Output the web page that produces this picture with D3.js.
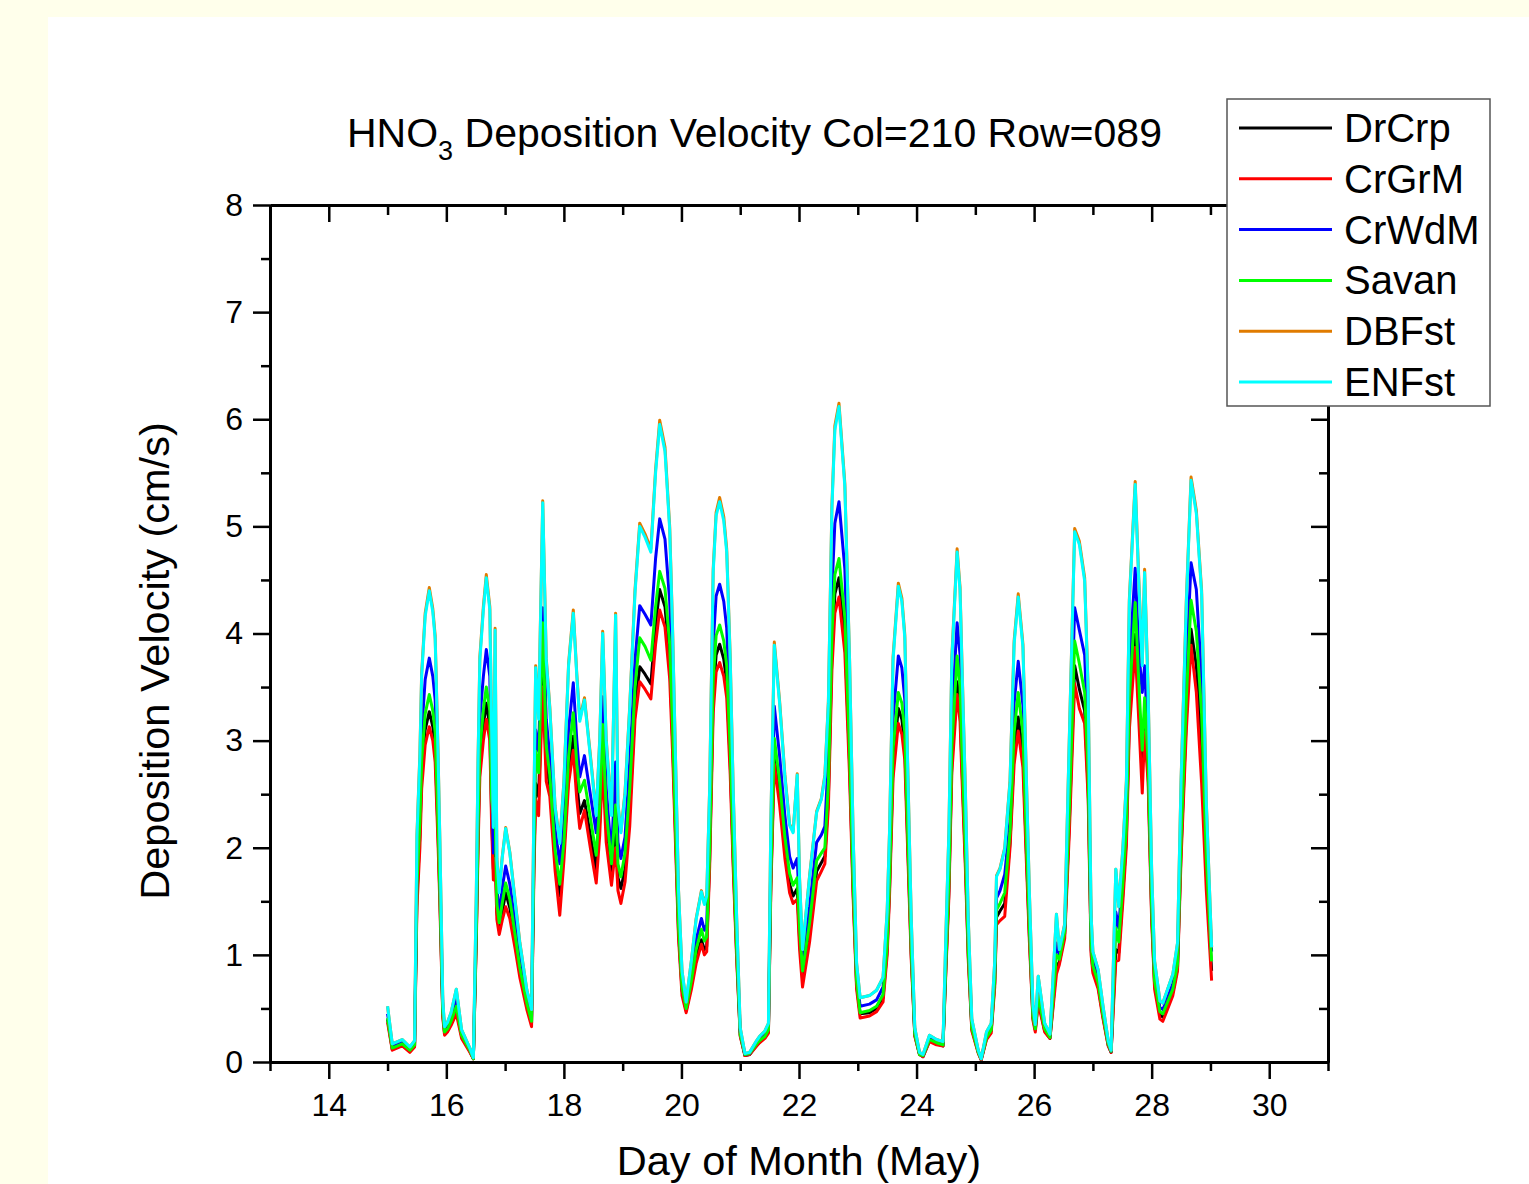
<!DOCTYPE html>
<html>
<head>
<meta charset="utf-8">
<script src="https://cdn.jsdelivr.net/npm/d3@7"></script>
<style>
    body { margin: 0; background: #ffffeb; }
    svg { display: block; }
</style>
</head>
<body>
<svg id="chart" width="1529" height="1184"></svg>
<script>
// hourly-ish sample times (day of May)
const days = [
    15.00, 15.08, 15.25, 15.38, 15.46, 15.50, 15.55, 15.58, 15.64, 15.71, 15.77, 15.81, 15.86, 15.89, 15.94, 15.97,
    16.02, 16.08, 16.17, 16.26, 16.40, 16.46, 16.51, 16.54, 16.57, 16.63, 16.68, 16.74, 16.77, 16.80, 16.83, 16.86, 16.90, 16.95,
    17.01, 17.08, 17.17, 17.25, 17.37, 17.45, 17.49, 17.52, 17.57, 17.64, 17.70, 17.76, 17.85, 17.93,
    18.00, 18.08, 18.16, 18.22, 18.27, 18.35, 18.45, 18.55, 18.61, 18.66, 18.72, 18.81, 18.88, 18.92, 18.97,
    19.04, 19.12, 19.21, 19.29, 19.38, 19.48, 19.56, 19.63, 19.72, 19.80, 19.85, 19.90, 19.95,
    20.01, 20.08, 20.17, 20.25, 20.34, 20.39, 20.43, 20.48, 20.54, 20.59, 20.65, 20.72, 20.77, 20.83, 20.88, 20.94,
    21.00, 21.08, 21.16, 21.28, 21.33, 21.42, 21.48, 21.52, 21.58, 21.67, 21.76, 21.84, 21.90, 21.97,
    22.01, 22.06, 22.18, 22.30, 22.38, 22.44, 22.50, 22.56, 22.61, 22.68, 22.78, 22.86, 22.92, 22.98,
    23.04, 23.20, 23.32, 23.43, 23.50, 23.54, 23.60, 23.69, 23.75, 23.80, 23.85, 23.91, 23.97,
    24.05, 24.11, 24.22, 24.34, 24.45, 24.50, 24.55, 24.60, 24.69, 24.74, 24.77, 24.83, 24.88, 24.94,
    25.05, 25.10, 25.19, 25.27, 25.33, 25.36, 25.42, 25.50, 25.59, 25.66, 25.73, 25.81, 25.87, 25.92, 25.98,
    26.02, 26.07, 26.18, 26.27, 26.38, 26.43, 26.52, 26.60, 26.69, 26.77, 26.86, 26.92, 26.97,
    27.00, 27.09, 27.17, 27.26, 27.31, 27.39, 27.44, 27.51, 27.57, 27.62, 27.72, 27.78, 27.84, 27.88, 27.94,
    28.00, 28.05, 28.14, 28.19, 28.36, 28.44, 28.50, 28.59, 28.67, 28.76, 28.85, 28.93,
    29.02
]

const drCrp = [
    0.40, 0.12, 0.16, 0.10, 0.15, 1.55, 2.12, 2.68, 3.10, 3.27, 3.13, 2.94, 2.12, 1.55, 0.44, 0.27,
    0.30, 0.36, 0.49, 0.24, 0.10, 0.03, 1.18, 2.10, 2.80, 3.14, 3.35, 3.13, 2.33, 1.80, 2.05, 1.40, 1.24, 1.40,
    1.58, 1.44, 1.13, 0.84, 0.52, 0.36, 1.85, 2.60, 2.48, 3.62, 2.78, 2.58, 1.88, 1.55,
    1.98, 2.70, 3.04, 2.60, 2.32, 2.44, 2.12, 1.80, 2.25, 2.94, 2.20, 1.75, 2.20, 1.72, 1.62,
    1.80, 2.35, 3.30, 3.69, 3.62, 3.53, 4.08, 4.41, 4.25, 3.75, 3.00, 2.12, 1.22,
    0.67, 0.48, 0.72, 0.98, 1.14, 1.05, 1.08, 1.90, 3.41, 3.80, 3.90, 3.76, 3.55, 2.80, 1.90, 1.00,
    0.25, 0.06, 0.07, 0.16, 0.19, 0.23, 0.28, 1.64, 2.88, 2.50, 2.00, 1.66, 1.55, 1.62,
    1.15, 0.78, 1.20, 1.78, 1.86, 1.92, 2.48, 3.82, 4.37, 4.52, 3.98, 2.80, 1.62, 0.72,
    0.45, 0.46, 0.50, 0.60, 1.05, 1.62, 2.78, 3.30, 3.20, 2.95, 2.05, 1.00, 0.25,
    0.07, 0.05, 0.20, 0.17, 0.15, 0.90, 1.60, 2.80, 3.55, 3.30, 2.80, 1.90, 1.00, 0.31,
    0.09, 0.02, 0.22, 0.29, 0.74, 1.35, 1.41, 1.48, 2.05, 2.90, 3.22, 2.88, 1.94, 1.18, 0.41,
    0.30, 0.58, 0.29, 0.22, 0.90, 0.93, 1.20, 2.25, 3.70, 3.48, 3.28, 2.55, 1.05,
    0.86, 0.71, 0.43, 0.16, 0.09, 1.05, 1.02, 1.58, 2.10, 3.22, 3.99, 3.35, 2.80, 3.20, 2.70,
    1.38, 0.72, 0.44, 0.42, 0.65, 0.88, 1.98, 3.22, 4.04, 3.70, 2.95, 1.75,
    0.85
]

const crGrM = [
    0.37, 0.11, 0.15, 0.09, 0.14, 1.45, 2.00, 2.55, 2.96, 3.13, 3.00, 2.80, 2.02, 1.47, 0.41, 0.25,
    0.28, 0.34, 0.45, 0.22, 0.09, 0.03, 1.12, 2.00, 2.66, 3.00, 3.20, 3.00, 2.22, 1.70, 1.90, 1.33, 1.19, 1.32,
    1.45, 1.34, 1.06, 0.79, 0.49, 0.33, 1.75, 2.45, 2.30, 3.50, 2.62, 2.48, 1.79, 1.37,
    1.88, 2.60, 2.91, 2.45, 2.18, 2.35, 2.00, 1.67, 2.12, 2.78, 2.05, 1.65, 2.00, 1.60, 1.48,
    1.68, 2.20, 3.20, 3.55, 3.48, 3.39, 3.90, 4.22, 4.06, 3.58, 2.88, 2.02, 1.16,
    0.62, 0.46, 0.68, 0.92, 1.10, 1.00, 1.03, 1.82, 3.26, 3.64, 3.73, 3.60, 3.40, 2.68, 1.82, 0.95,
    0.24, 0.06, 0.07, 0.15, 0.18, 0.22, 0.27, 1.58, 2.78, 2.40, 1.90, 1.58, 1.48, 1.52,
    1.05, 0.70, 1.12, 1.69, 1.78, 1.85, 2.38, 3.66, 4.19, 4.34, 3.82, 2.68, 1.55, 0.68,
    0.41, 0.43, 0.47, 0.56, 1.00, 1.55, 2.65, 3.16, 3.06, 2.82, 1.96, 0.95, 0.24,
    0.07, 0.05, 0.19, 0.16, 0.15, 0.86, 1.54, 2.70, 3.43, 3.18, 2.70, 1.82, 0.95, 0.29,
    0.08, 0.02, 0.21, 0.27, 0.70, 1.28, 1.32, 1.36, 2.00, 2.78, 3.09, 2.75, 1.85, 1.12, 0.39,
    0.28, 0.55, 0.28, 0.22, 0.82, 0.91, 1.15, 2.15, 3.53, 3.30, 3.16, 2.45, 1.00,
    0.83, 0.68, 0.41, 0.15, 0.09, 0.94, 0.95, 1.50, 2.02, 3.10, 3.87, 3.20, 2.51, 3.08, 2.61,
    1.32, 0.68, 0.40, 0.38, 0.62, 0.85, 1.90, 3.10, 3.89, 3.45, 2.60, 1.60,
    0.76
]

const crWdM = [
    0.45, 0.15, 0.19, 0.12, 0.18, 1.80, 2.45, 3.08, 3.57, 3.77, 3.60, 3.38, 2.45, 1.78, 0.50, 0.30,
    0.34, 0.41, 0.58, 0.27, 0.12, 0.04, 1.35, 2.42, 3.20, 3.60, 3.85, 3.60, 2.68, 1.95, 2.60, 1.62, 1.38, 1.62,
    1.83, 1.66, 1.30, 0.97, 0.60, 0.42, 2.10, 3.10, 2.90, 4.24, 3.20, 2.85, 2.18, 1.85,
    2.25, 3.10, 3.54, 3.00, 2.66, 2.86, 2.50, 2.14, 2.60, 3.41, 2.55, 1.93, 2.80, 2.05, 1.90,
    2.10, 2.80, 3.75, 4.26, 4.18, 4.08, 4.70, 5.07, 4.88, 4.30, 3.45, 2.42, 1.40,
    0.76, 0.53, 0.82, 1.14, 1.34, 1.23, 1.28, 2.18, 3.90, 4.35, 4.46, 4.30, 4.05, 3.20, 2.18, 1.15,
    0.28, 0.07, 0.08, 0.18, 0.21, 0.26, 0.32, 1.88, 3.32, 2.86, 2.30, 1.92, 1.81, 1.90,
    1.40, 0.96, 1.45, 2.05, 2.12, 2.20, 2.85, 4.40, 5.03, 5.23, 4.60, 3.20, 1.85, 0.82,
    0.52, 0.54, 0.58, 0.70, 1.20, 1.85, 3.20, 3.79, 3.68, 3.38, 2.35, 1.15, 0.28,
    0.08, 0.06, 0.22, 0.19, 0.17, 1.02, 1.84, 3.22, 4.10, 3.80, 3.22, 2.18, 1.15, 0.35,
    0.10, 0.03, 0.25, 0.32, 0.85, 1.53, 1.60, 1.75, 2.25, 3.35, 3.74, 3.33, 2.24, 1.36, 0.47,
    0.33, 0.70, 0.33, 0.24, 1.11, 1.00, 1.25, 2.60, 4.24, 4.03, 3.80, 2.95, 1.18,
    0.95, 0.78, 0.48, 0.18, 0.10, 1.40, 1.25, 1.78, 2.35, 3.70, 4.61, 3.85, 3.45, 3.70, 2.95,
    1.55, 0.82, 0.51, 0.49, 0.73, 0.98, 2.25, 3.68, 4.66, 4.41, 3.58, 2.08,
    1.03
]

const savan = [
    0.41, 0.13, 0.17, 0.11, 0.16, 1.65, 2.25, 2.82, 3.25, 3.43, 3.28, 3.08, 2.22, 1.62, 0.46, 0.28,
    0.31, 0.38, 0.52, 0.25, 0.11, 0.03, 1.23, 2.20, 2.92, 3.29, 3.50, 3.28, 2.45, 2.32, 2.30, 1.48, 1.30, 1.48,
    1.67, 1.52, 1.19, 0.88, 0.55, 0.38, 1.95, 2.90, 2.70, 4.10, 2.95, 2.68, 1.98, 1.66,
    2.05, 2.85, 3.26, 2.78, 2.52, 2.63, 2.28, 1.93, 2.40, 3.15, 2.35, 1.85, 2.40, 1.85, 1.73,
    1.95, 2.55, 3.50, 3.96, 3.88, 3.75, 4.25, 4.58, 4.42, 3.90, 3.12, 2.20, 1.28,
    0.70, 0.50, 0.76, 1.05, 1.24, 1.13, 1.17, 2.00, 3.57, 3.98, 4.08, 3.93, 3.70, 2.92, 1.99, 1.05,
    0.26, 0.07, 0.08, 0.17, 0.20, 0.24, 0.30, 1.72, 3.02, 2.62, 2.10, 1.76, 1.65, 1.72,
    1.25, 0.85, 1.30, 1.88, 1.95, 2.00, 2.60, 4.00, 4.55, 4.70, 4.15, 2.92, 1.70, 0.76,
    0.46, 0.48, 0.52, 0.63, 1.10, 1.70, 2.92, 3.45, 3.35, 3.08, 2.15, 1.05, 0.26,
    0.07, 0.06, 0.21, 0.18, 0.16, 0.94, 1.69, 2.95, 3.79, 3.50, 2.95, 2.00, 1.05, 0.32,
    0.09, 0.03, 0.23, 0.30, 0.78, 1.42, 1.48, 1.58, 2.15, 3.08, 3.45, 3.07, 2.06, 1.25, 0.43,
    0.31, 0.62, 0.31, 0.23, 1.00, 0.96, 1.22, 2.38, 3.93, 3.72, 3.45, 2.70, 1.10,
    0.90, 0.74, 0.45, 0.17, 0.10, 1.25, 1.12, 1.68, 2.20, 3.40, 4.29, 3.55, 2.91, 3.40, 2.80,
    1.45, 0.76, 0.47, 0.45, 0.68, 0.92, 2.08, 3.40, 4.31, 4.02, 3.25, 1.90,
    0.94
]

const dbFst = [
    0.52, 0.17, 0.21, 0.14, 0.20, 2.12, 2.88, 3.63, 4.19, 4.43, 4.23, 3.98, 2.87, 2.07, 0.57, 0.33,
    0.37, 0.46, 0.68, 0.30, 0.13, 0.04, 1.59, 2.84, 3.78, 4.25, 4.55, 4.25, 3.15, 2.20, 4.05, 1.90, 1.59, 1.91,
    2.19, 1.96, 1.51, 1.12, 0.67, 0.49, 2.41, 3.70, 3.22, 5.24, 3.77, 3.32, 2.39, 2.05,
    2.62, 3.72, 4.22, 3.62, 3.20, 3.40, 2.87, 2.31, 3.02, 4.02, 3.02, 2.31, 4.19, 2.41, 2.15,
    2.52, 3.32, 4.41, 5.03, 4.93, 4.79, 5.53, 5.99, 5.74, 5.00, 4.03, 2.82, 1.61,
    0.85, 0.56, 0.95, 1.34, 1.60, 1.48, 1.56, 2.56, 4.60, 5.13, 5.27, 5.09, 4.79, 3.78, 2.56, 1.34,
    0.32, 0.08, 0.09, 0.20, 0.24, 0.29, 0.36, 2.21, 3.92, 3.37, 2.68, 2.22, 2.15, 2.69,
    1.71, 1.05, 1.74, 2.34, 2.46, 2.68, 3.37, 5.20, 5.94, 6.15, 5.40, 3.77, 2.15, 0.92,
    0.60, 0.62, 0.67, 0.79, 1.41, 2.15, 3.78, 4.47, 4.33, 3.99, 2.76, 1.34, 0.32,
    0.09, 0.07, 0.25, 0.21, 0.19, 1.21, 2.15, 3.78, 4.79, 4.43, 3.78, 2.56, 1.34, 0.40,
    0.11, 0.03, 0.28, 0.36, 0.94, 1.74, 1.81, 2.00, 2.63, 3.93, 4.37, 3.90, 2.62, 1.58, 0.53,
    0.35, 0.80, 0.36, 0.26, 1.38, 1.05, 1.29, 3.05, 4.98, 4.86, 4.52, 3.47, 1.37,
    1.03, 0.86, 0.53, 0.20, 0.11, 1.80, 1.45, 2.00, 2.63, 4.32, 5.42, 4.52, 3.72, 4.60, 3.47,
    1.79, 0.94, 0.57, 0.55, 0.82, 1.11, 2.63, 4.32, 5.46, 5.15, 4.40, 2.43,
    1.07
]

const enFst = [
    0.52, 0.17, 0.21, 0.14, 0.20, 2.10, 2.85, 3.60, 4.16, 4.40, 4.20, 3.95, 2.85, 2.06, 0.57, 0.33,
    0.37, 0.46, 0.68, 0.30, 0.13, 0.04, 1.58, 2.82, 3.75, 4.22, 4.52, 4.22, 3.13, 2.19, 4.03, 1.89, 1.58, 1.90,
    2.18, 1.95, 1.50, 1.11, 0.67, 0.49, 2.40, 3.68, 3.20, 5.22, 3.75, 3.30, 2.38, 2.04,
    2.60, 3.70, 4.19, 3.60, 3.18, 3.38, 2.85, 2.30, 3.00, 4.00, 3.00, 2.30, 4.17, 2.40, 2.14,
    2.50, 3.30, 4.38, 5.00, 4.90, 4.76, 5.50, 5.95, 5.70, 4.97, 4.00, 2.80, 1.60,
    0.85, 0.56, 0.95, 1.33, 1.59, 1.47, 1.55, 2.54, 4.57, 5.10, 5.23, 5.05, 4.76, 3.75, 2.54, 1.33,
    0.32, 0.08, 0.09, 0.20, 0.24, 0.29, 0.36, 2.20, 3.89, 3.35, 2.66, 2.21, 2.14, 2.68,
    1.70, 1.05, 1.73, 2.33, 2.45, 2.66, 3.35, 5.17, 5.90, 6.12, 5.37, 3.75, 2.14, 0.92,
    0.60, 0.62, 0.67, 0.79, 1.40, 2.14, 3.75, 4.44, 4.30, 3.96, 2.74, 1.33, 0.32,
    0.09, 0.07, 0.25, 0.21, 0.19, 1.20, 2.14, 3.75, 4.76, 4.40, 3.75, 2.54, 1.33, 0.40,
    0.11, 0.03, 0.28, 0.36, 0.94, 1.73, 1.80, 1.99, 2.61, 3.90, 4.34, 3.87, 2.60, 1.57, 0.53,
    0.35, 0.80, 0.36, 0.26, 1.38, 1.05, 1.28, 3.03, 4.95, 4.83, 4.49, 3.45, 1.36,
    1.03, 0.86, 0.53, 0.20, 0.11, 1.80, 1.45, 1.99, 2.61, 4.29, 5.39, 4.49, 3.70, 4.57, 3.45,
    1.78, 0.94, 0.57, 0.55, 0.82, 1.11, 2.61, 4.29, 5.43, 5.12, 4.37, 2.41,
    1.07
]

const seriesNames = ["DrCrp", "CrGrM", "CrWdM", "Savan", "DBFst", "ENFst"]
const seriesColors = ["#000000", "#ff0000", "#0000ff", "#00ff00", "#e07b00", "#00ffff"]
const xMajorTicks = [14, 16, 18, 20, 22, 24, 26, 28, 30]
const xMinorTicks = [13, 15, 17, 19, 21, 23, 25, 27, 29, 31]
const yMajorTicks = [0, 1, 2, 3, 4, 5, 6, 7, 8]
const yMinorTicks = [0.5, 1.5, 2.5, 3.5, 4.5, 5.5, 6.5, 7.5]

class DepositionChart {

    constructor(values) {
        this.values = values
        this.width = 1529
        this.height = 1184
        this.left = 270
        this.right = 1328
        this.top = 205
        this.bottom = 1062
        this.font = "'Liberation Sans', Arial, sans-serif"
        this.drawChart()
    }

    drawChart() {
        this.setup()
        this.updateChart()
    }

    setup() {
        this.svg = d3.select("#chart")
        this.x = d3.scaleLinear().domain([13, 31]).range([this.left, this.right])
        this.y = d3.scaleLinear().domain([0, 8]).range([this.bottom, this.top])
        this.color = d3.scaleOrdinal(seriesNames, seriesColors)

        this.line = d3.line()
            .x(d => this.x(d[0]))
            .y(d => this.y(d[1]))

        for (let i = 0; i < this.values.length; i++) {
            if (this.values[i].length != days.length)
                console.warn(seriesNames[i], this.values[i].length, days.length)
        }
    }

    styleAxis(g) {
        g.selectAll("path.domain").attr("stroke", "#000").attr("stroke-width", 3)
        g.selectAll(".tick line").attr("stroke", "#000").attr("stroke-width", 2.5)
        g.selectAll("text")
            .attr("fill", "#000")
            .attr("font-family", this.font)
            .attr("font-size", 32)
    }

    updateChart() {
        let svg = this.svg

        svg.append("rect")
            .attr("width", this.width)
            .attr("height", this.height)
            .attr("fill", "#ffffeb")
        svg.append("rect")
            .attr("x", 48).attr("y", 17)
            .attr("width", this.width - 48)
            .attr("height", this.height - 17)
            .attr("fill", "#ffffff")

        // series, drawn in legend order so ENFst ends up on top
        svg.append("g")
            .selectAll("path")
            .data(this.values)
            .join("path")
            .attr("fill", "none")
            .attr("stroke", (d, i) => this.color(seriesNames[i]))
            .attr("stroke-width", 3)
            .attr("stroke-linejoin", "round")
            .attr("d", d => this.line(d3.zip(days, d)))

        // bottom axis: outward ticks with labels
        svg.append("g")
            .attr("transform", `translate(0,${this.bottom})`)
            .call(d3.axisBottom(this.x).tickValues(xMinorTicks).tickSize(9).tickSizeOuter(0).tickFormat(""))
            .call(g => this.styleAxis(g))
        svg.append("g")
            .attr("transform", `translate(0,${this.bottom})`)
            .call(d3.axisBottom(this.x).tickValues(xMajorTicks).tickSize(17).tickSizeOuter(0).tickPadding(14).tickFormat(d3.format("d")))
            .call(g => this.styleAxis(g))

        // top axis: inward ticks only
        svg.append("g")
            .attr("transform", `translate(0,${this.top})`)
            .call(d3.axisTop(this.x).tickValues(xMinorTicks).tickSize(-10).tickSizeOuter(0).tickFormat(""))
            .call(g => this.styleAxis(g))
        svg.append("g")
            .attr("transform", `translate(0,${this.top})`)
            .call(d3.axisTop(this.x).tickValues(xMajorTicks).tickSize(-17).tickSizeOuter(0).tickFormat(""))
            .call(g => this.styleAxis(g))

        // left axis: outward ticks with labels
        svg.append("g")
            .attr("transform", `translate(${this.left},0)`)
            .call(d3.axisLeft(this.y).tickValues(yMinorTicks).tickSize(9).tickSizeOuter(0).tickFormat(""))
            .call(g => this.styleAxis(g))
        svg.append("g")
            .attr("transform", `translate(${this.left},0)`)
            .call(d3.axisLeft(this.y).tickValues(yMajorTicks).tickSize(17).tickSizeOuter(0).tickPadding(10).tickFormat(d3.format("d")))
            .call(g => this.styleAxis(g))

        // right axis: inward ticks only
        svg.append("g")
            .attr("transform", `translate(${this.right},0)`)
            .call(d3.axisRight(this.y).tickValues(yMinorTicks).tickSize(-9).tickSizeOuter(0).tickFormat(""))
            .call(g => this.styleAxis(g))
        svg.append("g")
            .attr("transform", `translate(${this.right},0)`)
            .call(d3.axisRight(this.y).tickValues(yMajorTicks).tickSize(-17).tickSizeOuter(0).tickFormat(""))
            .call(g => this.styleAxis(g))

        // title with subscript
        let title = svg.append("text")
            .attr("x", 347)
            .attr("y", 147)
            .attr("font-family", this.font)
            .attr("font-size", 41)
            .attr("fill", "#000")
        title.append("tspan").text("HNO")
        title.append("tspan").attr("font-size", 27).attr("dy", 13).text("3")
        title.append("tspan").attr("dy", -13).text(" Deposition Velocity Col=210 Row=089")

        svg.append("text")
            .attr("transform", "translate(169,661) rotate(-90)")
            .attr("text-anchor", "middle")
            .attr("font-family", this.font)
            .attr("font-size", 41.5)
            .attr("fill", "#000")
            .text("Deposition Velocity (cm/s)")

        svg.append("text")
            .attr("x", (this.left + this.right) / 2)
            .attr("y", 1175)
            .attr("text-anchor", "middle")
            .attr("font-family", this.font)
            .attr("font-size", 41.5)
            .attr("fill", "#000")
            .text("Day of Month (May)")

        // legend
        let legend = svg.append("g").attr("transform", "translate(1227,99)")
        legend.append("rect")
            .attr("width", 263)
            .attr("height", 307)
            .attr("fill", "#fff")
            .attr("stroke", "#555")
            .attr("stroke-width", 1.5)
        let item = legend.selectAll("g")
            .data(seriesNames)
            .join("g")
            .attr("transform", (d, i) => `translate(0,${29 + i * 50.8})`)
        item.append("line")
            .attr("x1", 12).attr("x2", 105)
            .attr("stroke", d => this.color(d))
            .attr("stroke-width", 3)
        item.append("text")
            .attr("x", 117)
            .attr("dy", "0.35em")
            .attr("font-family", this.font)
            .attr("font-size", 40)
            .attr("fill", "#000")
            .text(d => d)
    }
}

new DepositionChart([drCrp, crGrM, crWdM, savan, dbFst, enFst])
</script>
</body>
</html>
